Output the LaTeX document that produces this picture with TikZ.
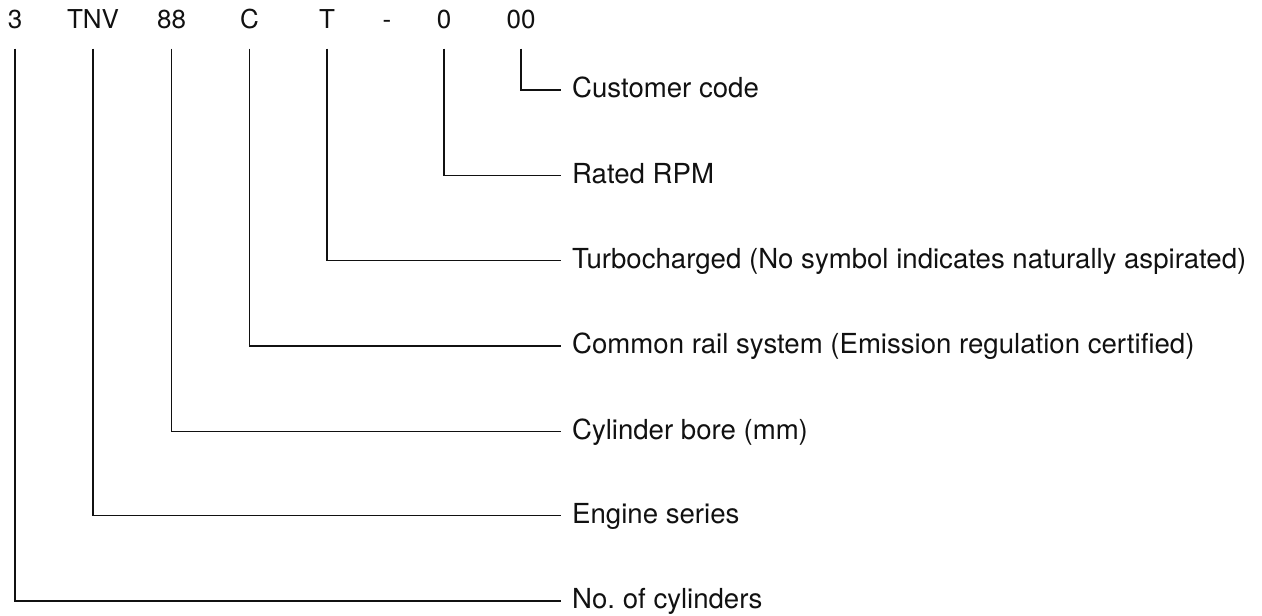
\documentclass[tikz,border=0pt]{standalone}
\usepackage{fontspec}
\setmainfont{TeX Gyre Heros}
\usepackage{tikz}
\definecolor{Ink}{HTML}{111111}
\tikzset{
  code/.style={anchor=base,inner xsep=0pt,inner ysep=20pt,text depth=0pt,font=\fontsize{26}{30}\selectfont,text=Ink},
  tag/.style={anchor=west,inner xsep=11pt,inner ysep=0pt,text height=20pt,text depth=5pt,font=\fontsize{27.6}{32}\selectfont,text=Ink},
  lead/.style={line width=1.8pt,draw=Ink},
}
\frenchspacing
\begin{document}
\begin{tikzpicture}[x=1pt,y=-1pt]
 \useasboundingbox (0,0) rectangle (1262,616);
 % model code, split in its parts
 \node[code] (ncyl) at (15,28.3) {3};
 \node[code] (nser) at (93,28.3) {TNV};
 \node[code] (nbore) at (171.5,28.3) {88};
 \node[code] (ncr) at (249.5,28.3) {C};
 \node[code] (nturbo) at (327,28.3) {T};
 \node[code] (ndash) at (387,28.3) {-};
 \node[code] (nrpm) at (444,28.3) {0};
 \node[code] (ncust) at (521,28.3) {00};
 % meanings
 \node[tag] (tcust) at (561,90) {Customer code};
 \node[tag] (trpm) at (561,175.5) {Rated RPM};
 \node[tag] (tturbo) at (561,260.5) {Turbocharged (No symbol indicates naturally aspirated)};
 \node[tag] (tcr) at (561,346) {Common rail system (Emission regulation certified)};
 \node[tag] (tbore) at (561,431.5) {Cylinder bore (mm)};
 \node[tag] (tser) at (561,515.5) {Engine series};
 \node[tag] (tcyl) at (561,601) {No. of cylinders};
 \draw[lead] (ncust.south) |- (tcust.west);
 \draw[lead] (nrpm.south) |- (trpm.west);
 \draw[lead] (nturbo.south) |- (tturbo.west);
 \draw[lead] (ncr.south) |- (tcr.west);
 \draw[lead] (nbore.south) |- (tbore.west);
 \draw[lead] (nser.south) |- (tser.west);
 \draw[lead] (ncyl.south) |- (tcyl.west);
\end{tikzpicture}
\end{document}
